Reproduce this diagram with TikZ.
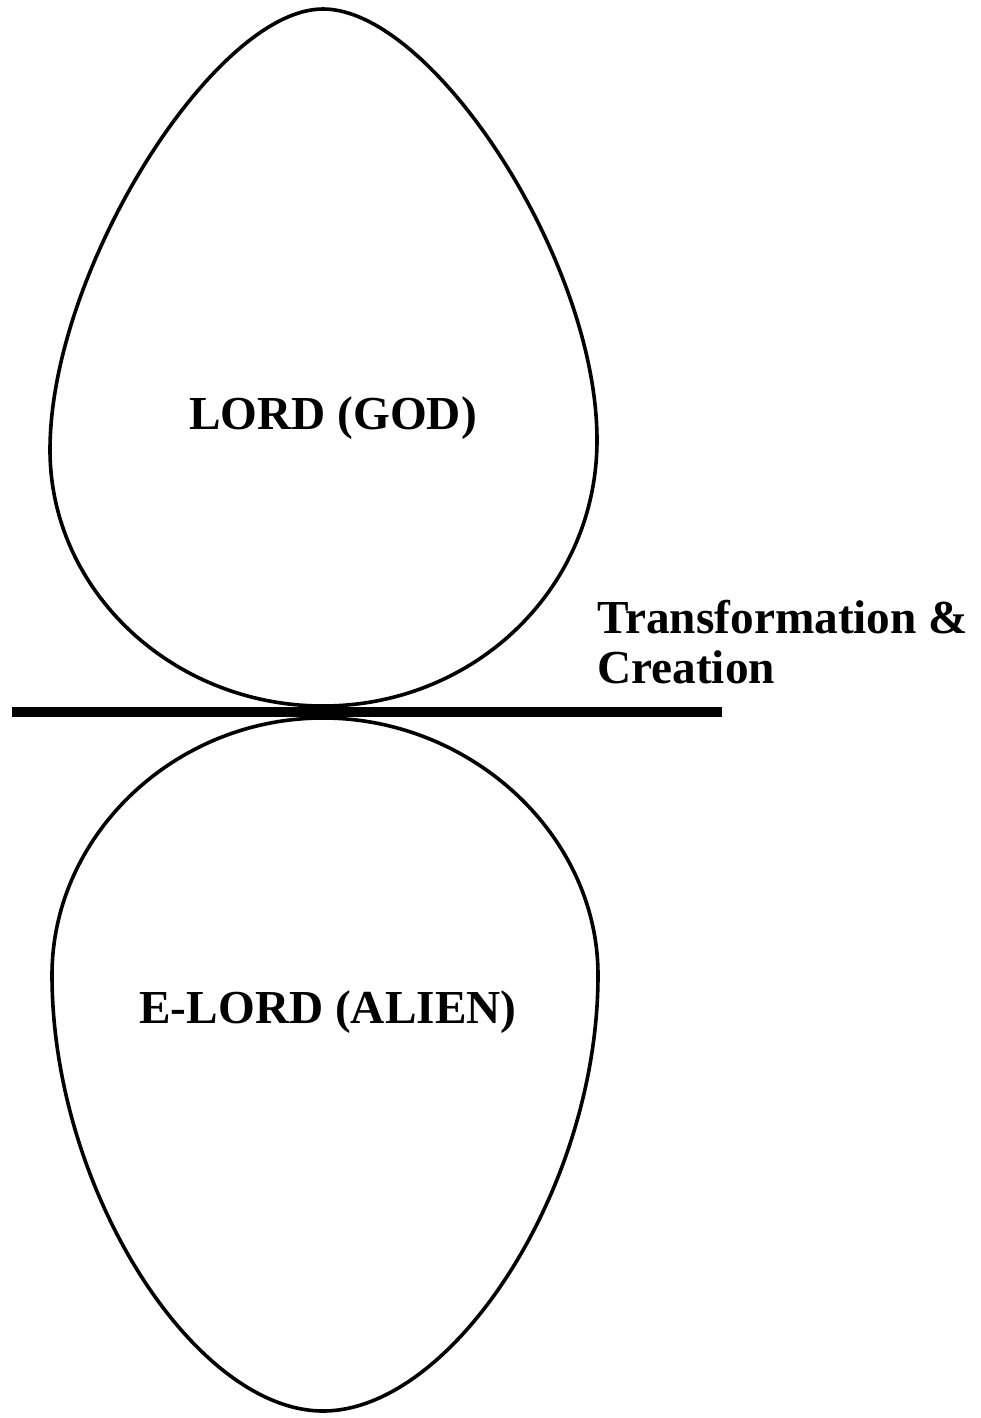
\documentclass[tikz,border=0pt]{standalone}
\usepackage{fontspec}
\setmainfont{Liberation Serif}
\begin{document}
\begin{tikzpicture}[x=1pt,y=-1pt,
  egg/.style={draw=black,line width=3.6pt,line join=round},
  lbl/.style={font=\fontsize{47.3}{50}\selectfont\bfseries,inner sep=0pt},
  bar/.style={draw=black,line width=10pt}]
\useasboundingbox (0,0) rectangle (980,1418);
% top egg
\draw[egg] (323,706) .. controls (173,706) and (50,591) .. (50,450)
  .. controls (50,270) and (215,9) .. (323,9)
  .. controls (432,9) and (597,260) .. (597,440)
  .. controls (597,590) and (473,706) .. (323,706) -- cycle;
% bottom egg
\draw[egg] (323,718) .. controls (175,718) and (52,835) .. (52,975)
  .. controls (52,1190) and (195,1411) .. (323,1411)
  .. controls (452,1411) and (598,1190) .. (598,975)
  .. controls (598,835) and (471,718) .. (323,718) -- cycle;
\coordinate (l) at (12,712);
\coordinate (r) at (722,712);
\draw[bar] (l) -- (r);
\fill[black] (302,705) rectangle (347,720);
\node[lbl] (god) at (333,418) {LORD (GOD)};
\node[lbl] (alien) at (328,1012) {E-LORD (ALIEN)};
\node[lbl,anchor=north west,align=left] (tc) at (597,600) {Transformation \&\\Creation};
\end{tikzpicture}
\end{document}
